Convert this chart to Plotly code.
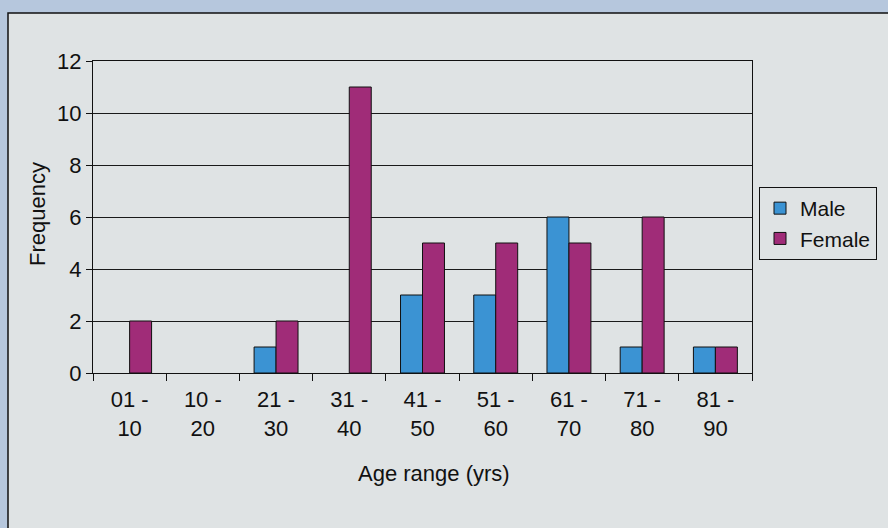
import plotly.graph_objects as go

categories = ["01 -<br>10", "10 -<br>20", "21 -<br>30", "31 -<br>40", "41 -<br>50",
              "51 -<br>60", "61 -<br>70", "71 -<br>80", "81 -<br>90"]
male = [0, 0, 1, 0, 3, 3, 6, 1, 1]
female = [2, 0, 2, 11, 5, 5, 5, 6, 1]
y_ticks = [0, 2, 4, 6, 8, 10, 12]

W, H = 888, 528
L, R, T, B = 93, 752, 61, 373
pw, ph = R - L, B - T

def px(x):
    return (x - L) / pw

def py(y):
    return (B - y) / ph

def nz(vals):
    # zero-height bars are not drawn in the reference (no outline at 0)
    return [v if v else None for v in vals]

font = "Liberation Sans, Arial, sans-serif"

fig = go.Figure()
fig.add_trace(go.Bar(x=categories, y=nz(male), name="Male",
                     marker=dict(color="#3b93d3", line=dict(color="#111111", width=1))))
fig.add_trace(go.Bar(x=categories, y=nz(female), name="Female",
                     marker=dict(color="#a02c78", line=dict(color="#111111", width=1))))

fig.update_layout(
    width=W, height=H,
    margin=dict(l=L, r=W - R, t=T, b=H - B, autoexpand=False),
    paper_bgcolor="#b6c7dd",
    plot_bgcolor="#c6cccb",
    barmode="group",
    bargap=0.4,
    bargroupgap=0,
    font=dict(family=font, size=22, color="#111111"),
    showlegend=True,
    legend=dict(x=px(877), y=py(187), xanchor="right", yanchor="top",
                bgcolor="#dfe3e4", bordercolor="#111111", borderwidth=1,
                font=dict(size=21), itemwidth=30, tracegroupgap=0),
    shapes=[dict(type="rect", xref="paper", yref="paper", layer="below",
                 x0=px(8), x1=px(900), y0=py(13), y1=py(540),
                 fillcolor="#dfe3e4", line=dict(color="#111111", width=1.5))],
    annotations=[
        dict(text="Age range (yrs)", xref="paper", yref="paper", x=px(434), y=py(473),
             xanchor="center", yanchor="middle", showarrow=False, font=dict(size=22)),
        dict(text="Frequency", xref="paper", yref="paper", x=px(37), y=py(214),
             xanchor="center", yanchor="middle", textangle=-90, showarrow=False,
             font=dict(size=22)),
    ],
)

fig.update_xaxes(type="category", tickson="boundaries", ticks="outside", ticklen=7,
                 tickcolor="#111111", showline=True, linecolor="#111111", linewidth=1,
                 mirror=True, showgrid=False, tickfont=dict(size=22), ticklabelstandoff=7)
fig.update_yaxes(range=[0, 12], tickvals=y_ticks, ticks="outside", ticklen=6,
                 tickcolor="#111111", showline=True, linecolor="#111111", linewidth=1,
                 mirror=True, showgrid=True, gridcolor="#1a1a1a", gridwidth=1,
                 zeroline=False, tickfont=dict(size=22))

fig.write_html("out.html", config={"displayModeBar": False},
               post_script="document.body.style.margin='0';")
